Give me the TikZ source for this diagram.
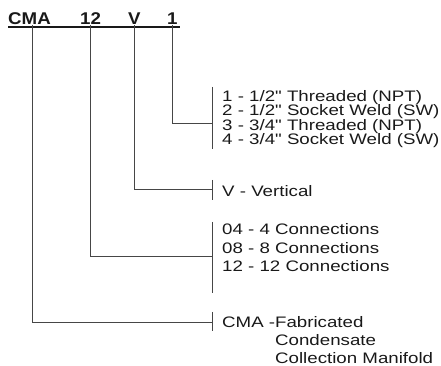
\documentclass[tikz,border=0pt]{standalone}
\usepackage{fontspec}
\newfontfamily\cdsans{Liberation Sans}[FakeStretch=1.23]
\newfontfamily\cdsansbold{Liberation Sans Bold}[FakeStretch=1.1]
\usepackage{tikz}
\usetikzlibrary{calc}
\definecolor{cdtext}{RGB}{25,25,25}
\definecolor{cdline}{RGB}{70,70,70}
\newcommand{\cdfont}{\cdsans\fontsize{15.2}{15.2}\selectfont}
\newcommand{\cdcodefont}{\cdsansbold\fontsize{17}{17}\selectfont}

\begin{document}
\begin{tikzpicture}[x=1pt, y=1pt,
  code/.style={font=\cdcodefont, color=cdtext, inner sep=0pt, anchor=base west},
  item/.style={font=\cdfont, color=cdtext, inner sep=0pt, anchor=base west},
  lead/.style={cdline, line width=0.8pt}]
\useasboundingbox (0,0) rectangle (441,366);

% ---- part number ----
\node[code] (cma)  at (8,341)   {CMA};
\node[code] (size) at (80,341)  {12};
\node[code] (vert) at (128,341) {V};
\node[code] (end)  at (167,341) {1};
\draw[cdtext, line width=1.2pt] ([yshift=-2pt]cma.base west) -- ([yshift=-2pt, xshift=2.6pt]end.base east);

% ---- brackets ----
\draw[lead] (212.5,279) -- (212.5,217);
\draw[lead] (212.5,186) -- (212.5,166);
\draw[lead] (212.5,144) -- (212.5,73);
\draw[lead] (212.5,54)  -- (212.5,35);
\coordinate (endbar)  at (212.5,243);
\coordinate (vertbar) at (212.5,177);
\coordinate (sizebar) at (212.5,110);
\coordinate (cmabar)  at (212.5,44);

% ---- leads ----
\draw[lead] (end.south) |- (endbar);
\draw[lead] (vert.south) |- (vertbar);
\draw[lead] (size.south) |- (sizebar);
\draw[lead] ([xshift=2.5pt]cma.south) |- (cmabar);

% ---- options ----
\foreach \y/\t [count=\i] in {264.5/{1 - 1/2" Threaded (NPT)}, 250/{2 - 1/2" Socket Weld (SW)},
                              235.5/{3 - 3/4" Threaded (NPT)}, 221/{4 - 3/4" Socket Weld (SW)}}{
  \node[item] (endopt\i) at (222,\y) {\t};
}
\node[item] (vertopt) at (222,169.5) {V - Vertical};
\foreach \y/\t [count=\i] in {131.5/{04 - 4 Connections}, 112.5/{08 - 8 Connections},
                              94.5/{12 - 12 Connections}}{
  \node[item] (sizeopt\i) at (222,\y) {\t};
}
\node[item] (cmaopt1) at (222,38.5) {CMA -Fabricated};
\node[item] (cmaopt2) at (275,20)   {Condensate};
\node[item] (cmaopt3) at (275,2)    {Collection Manifold};
\end{tikzpicture}
\end{document}
